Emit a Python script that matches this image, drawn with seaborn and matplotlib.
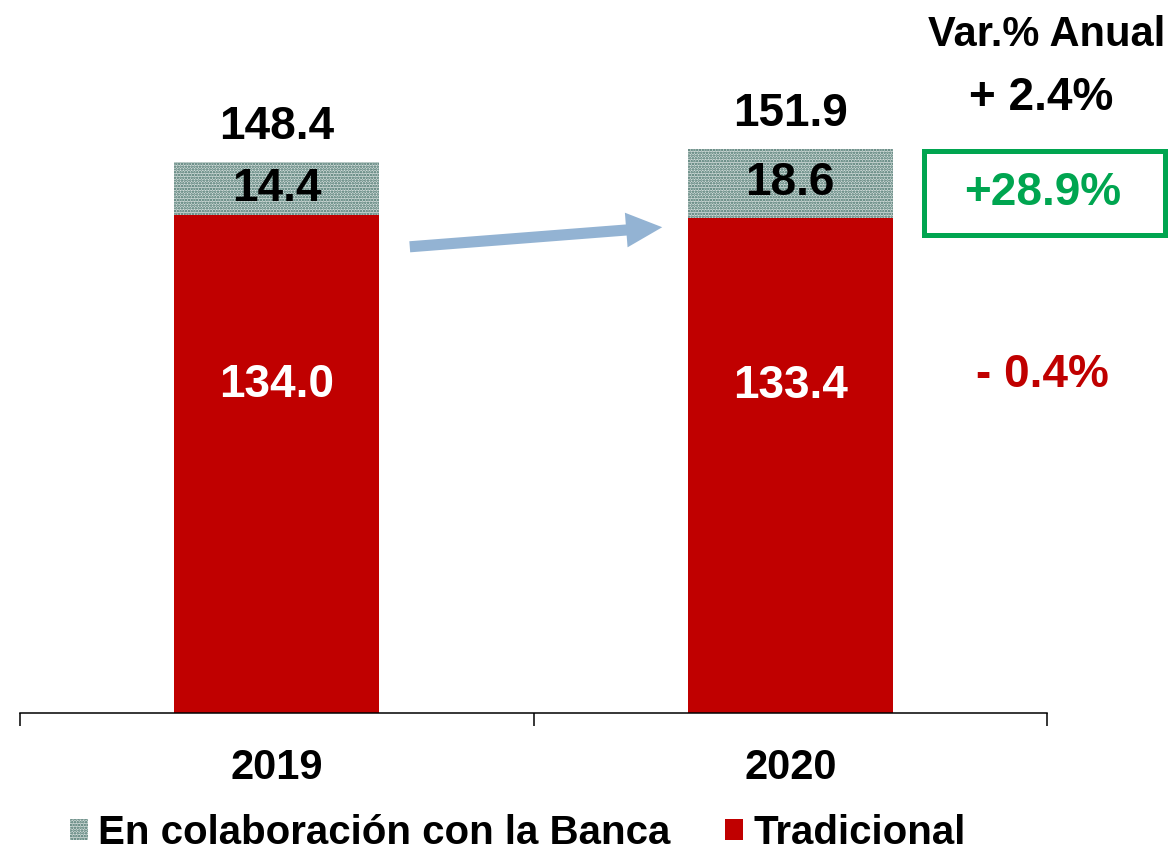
import matplotlib
matplotlib.use("Agg")
import matplotlib.pyplot as plt
from matplotlib.patches import Patch, Rectangle, FancyArrowPatch
import seaborn as sns
import pandas as pd

years = ["2019", "2020"]
tradicional = [134.0, 133.4]
banca = [14.4, 18.6]
totals = [148.4, 151.9]
var_total = "+ 2.4%"
var_banca = "+28.9%"
var_trad = "- 0.4%"

RED = "#C00000"
TEAL = "#3f6d64"
GREEN = "#00A550"
ARROW = "#93B3D3"
HATCH_BG = "#d2dcda"

sns.set_theme(style="white")
plt.rcParams["font.family"] = ["Liberation Sans", "DejaVu Sans"]
plt.rcParams["font.weight"] = "bold"
plt.rcParams["text.color"] = "black"
plt.rcParams["hatch.linewidth"] = 1.2
plt.rcParams["hatch.color"] = TEAL

df = pd.DataFrame({"year": years, "tradicional": tradicional,
                   "banca": banca, "total": totals})

W, H = 1171, 851
fig = plt.figure(figsize=(W / 100, H / 100), dpi=100)
ax = fig.add_axes([20 / W, 138 / H, 1027 / W, 713 / H])

# stacked: total (hatched) first, traditional on top
sns.barplot(data=df, x="year", y="total", ax=ax, color=HATCH_BG,
            edgecolor=TEAL, linewidth=0, hatch="......", width=0.4,
            saturation=1)
sns.barplot(data=df, x="year", y="tradicional", ax=ax, color=RED,
            linewidth=0, width=0.4, saturation=1)

ax.set_xlim(-0.5, 1.5)
ax.set_ylim(0, 192)
ax.set_xlabel("")
ax.set_ylabel("")
ax.set_yticks([])
for s in ["left", "right", "top"]:
    ax.spines[s].set_visible(False)
ax.spines["bottom"].set_color("black")
ax.spines["bottom"].set_linewidth(1.1)

ax.set_xticks([0, 1])
ax.set_xticklabels(years, fontsize=30, fontweight="bold", color="black")
ax.set_xticks([-0.5, 0.5, 1.5], minor=True)
ax.tick_params(axis="x", which="major", length=0, pad=25)
ax.tick_params(axis="x", which="minor", length=9.5, width=1.1,
               direction="out", color="black", bottom=True)

for i in range(len(years)):
    ax.annotate(f"{totals[i]:.1f}", (i, totals[i]), xytext=(0, 25),
                textcoords="offset points", ha="center", va="center",
                fontsize=33, fontweight="bold", color="black")
    ax.text(i, tradicional[i] + banca[i] / 2, f"{banca[i]:.1f}",
            ha="center", va="center", fontsize=33, fontweight="bold",
            color="black")
    ax.text(i, tradicional[i] * 0.66, f"{tradicional[i]:.1f}",
            ha="center", va="center", fontsize=33, fontweight="bold",
            color="white")

# arrow between the bars
arrow = FancyArrowPatch((407, H - 247), (665, H - 227),
                        transform=None,
                        arrowstyle="simple,head_length=26,head_width=25,tail_width=8",
                        mutation_scale=1, color=ARROW, lw=0)
fig.add_artist(arrow)

# right-hand annotations
fig.text(1047 / W, 1 - 35 / H, "Var.% Anual", ha="center", va="center",
         fontsize=30, fontweight="bold", color="black")
fig.text(1041 / W, 1 - 98 / H, var_total, ha="center", va="center",
         fontsize=33, fontweight="bold", color="black")
fig.text(1043 / W, 1 - 193 / H, var_banca, ha="center", va="center",
         fontsize=33, fontweight="bold", color=GREEN)
fig.add_artist(Rectangle((924 / W, 1 - 235 / H), 241 / W, 84 / H,
                         transform=fig.transFigure, fill=False,
                         edgecolor=GREEN, linewidth=3.6))
fig.text(1042 / W, 1 - 375 / H, var_trad, ha="center", va="center",
         fontsize=33, fontweight="bold", color=RED)

handles = [Patch(facecolor=HATCH_BG, edgecolor=TEAL, hatch="......", linewidth=0,
                 label="En colaboración con la Banca"),
           Patch(facecolor=RED, linewidth=0, label="Tradicional")]
leg = fig.legend(handles=handles, loc="center left", bbox_to_anchor=(70 / W, 18 / H),
                 ncol=2, frameon=False, prop={"weight": "bold", "size": 29},
                 handlelength=0.45, handleheight=0.45, handletextpad=0.25,
                 columnspacing=1.35, borderpad=0, borderaxespad=0,
                 labelcolor="black")

fig.savefig("out.png", dpi=100)
